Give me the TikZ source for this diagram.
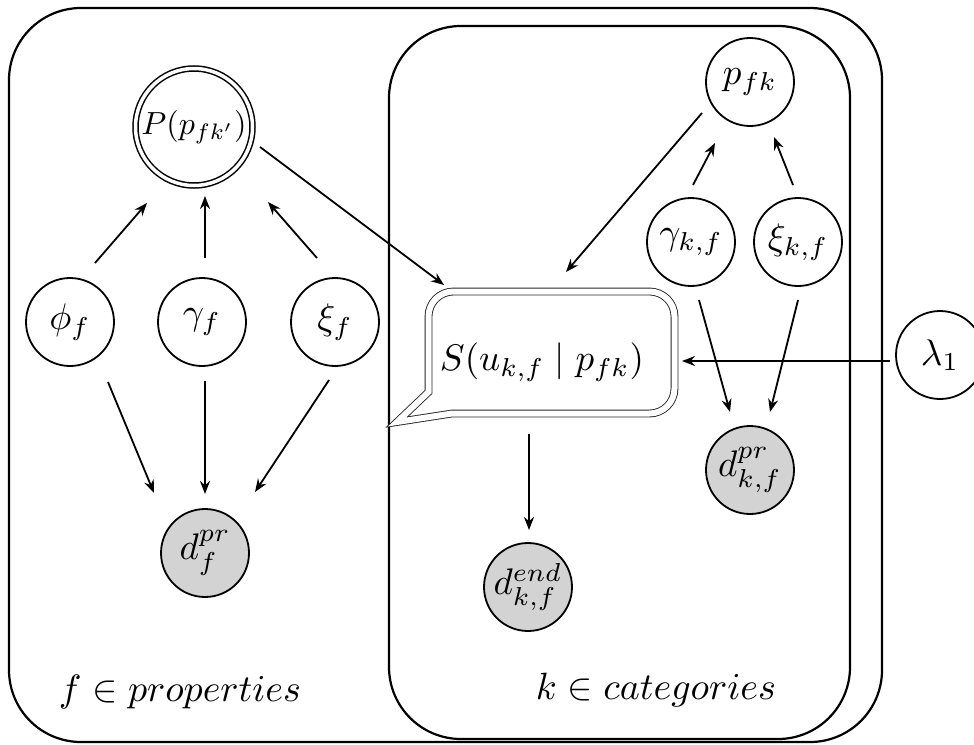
\documentclass[tikz,border=0pt]{standalone}
\usetikzlibrary{calc,arrows.meta}
\definecolor{obsgray}{RGB}{211,211,211}
\newcommand{\mtx}[2][3.7]{\scalebox{#1}{$#2$}}
\begin{document}
\begin{tikzpicture}[x=1pt,y=-1pt,
  var/.style={circle,draw,line width=1.8pt,minimum size=88pt,inner sep=0pt},
  obs/.style={var,fill=obsgray},
  dblvar/.style={circle,draw,line width=1.5pt,double,double distance=3.5pt,minimum size=117pt,inner sep=0pt},
  arr/.style={line width=1.8pt,-{Stealth[length=13pt,width=10pt]}},
  plate/.style={line width=2.2pt,rounded corners=72pt},
  bubble/.style={draw=black!85,line width=0.9pt,double,double distance=6pt,line join=miter}]
\useasboundingbox (0,0) rectangle (974,744);

% plates
\draw[plate] (9,8) rectangle (882,742);
\draw[plate] (389,26) rectangle (850,739);

% nodes
\node[dblvar] (P) at (194,127) {\mtx[3.2]{P(p_{fk'})}};
\node[var] (phi) at (70,322) {\mtx{\phi_f}};
\node[var] (gf) at (202,322) {\mtx{\gamma_f}};
\node[var] (xf) at (335,322) {\mtx{\xi_f}};
\node[obs] (df) at (205,553) {\mtx{d^{pr}_f}};
\node[var] (pfk) at (750,82) {\mtx{p_{fk}}};
\node[var] (gkf) at (691,242) {\mtx{\gamma_{k,f}}};
\node[var] (xkf) at (798,242) {\mtx{\xi_{k,f}}};
\node[obs] (dkf) at (750,470) {\mtx{d^{pr}_{k,f}}};
\node[obs] (dend) at (528,587) {\mtx{d^{end}_{k,f}}};
\node[var] (lam) at (940,355) {\mtx{\lambda_1}};

% speech bubble
\draw[bubble] (428.5,392) -- (428.5,316.5)
  .. controls (428.5,302.7) and (439.7,291.5) .. (453.5,291.5) -- (649.5,291.5)
  .. controls (663.3,291.5) and (674.5,302.7) .. (674.5,316.5) -- (674.5,388.5)
  .. controls (674.5,402.3) and (663.3,413.5) .. (649.5,413.5) -- (452,413.5) -- (397,422) -- cycle;
\node (S) at (542,362) {\mtx{S(u_{k,f}\mid p_{fk})}};

% plate labels
\node (lf) at (180,692) {\mtx[3.8]{f \in properties}};
\node (lk) at (656,690) {\mtx[3.8]{k \in categories}};

% arrows
\draw[arr] ($(phi)+(25,-59)$) -- ($(P)+(-47,76)$);
\draw[arr] ($(gf)+(3,-64)$) -- ($(P)+(11,69)$);
\draw[arr] ($(xf)+(-18,-64)$) -- ($(P)+(74,75)$);
\draw[arr] ($(phi)+(38,60)$) -- ($(df)+(-51,-60)$);
\draw[arr] ($(gf)+(3,59)$) -- ($(df)+(0,-59)$);
\draw[arr] ($(xf)+(-6,58)$) -- ($(df)+(50,-61)$);
\draw[arr] ($(P)+(66,20)$) -- ($(S)+(-98,-77)$);
\draw[arr] ($(pfk)+(-48,31)$) -- ($(S)+(24,-90)$);
\draw[arr] ($(gkf)+(2,-57)$) -- ($(pfk)+(-35,61)$);
\draw[arr] ($(xkf)+(-5,-57)$) -- ($(pfk)+(24,55)$);
\draw[arr] ($(gkf)+(8,58)$) -- ($(dkf)+(-20,-58)$);
\draw[arr] ($(xkf)+(0,58)$) -- ($(dkf)+(20,-58)$);
\draw[arr] ($(lam)+(-50,6)$) -- ($(S)+(140,-1)$);
\draw[arr] ($(S)+(-13,72)$) -- ($(dend)+(1,-57)$);
\end{tikzpicture}
\end{document}
